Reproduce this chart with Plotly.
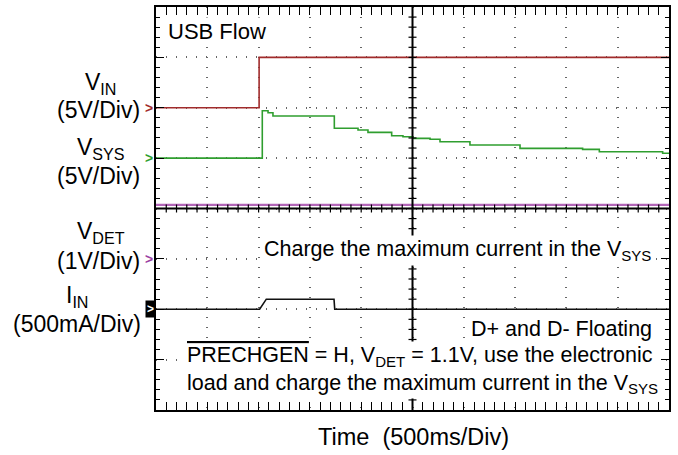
import plotly.graph_objects as go

# ---------------- data (time in ms, 500 ms/div) ----------------
t_vin = [0, 1005, 5000]
v_vin = [0.0, 5.0, 5.0]                      # V, 5 V/div

t_vsys = [0, 1036, 1092, 1140, 1738, 1969, 2066, 2297, 2407, 2505, 2671,
          2768, 3060, 3548, 4158, 4321, 4938, 5000]
v_vsys = [0.0, 4.70, 4.50, 4.18, 2.96, 2.79, 2.56, 2.22, 2.12, 1.96, 1.87,
          1.63, 1.30, 0.97, 0.87, 0.63, 0.48, 0.48]   # V, 5 V/div

t_vdet = [0, 5000]
v_vdet = [1.07, 1.07]                        # V, 1 V/div

t_iin = [0, 1010, 1075, 1735, 1742, 5000]
i_iin = [0, 0, 100, 100, 0, 0]               # mA, 500 mA/div

# ---------------- geometry helpers (layout only) ----------------
L, R, T, B = 156, 669, 7, 410
W, H = 678, 455
def px(x):
    return (x - L) / (R - L)
def py(y):
    return (B - y) / (B - T)

FONT = "Liberation Sans"

fig = go.Figure()

fig.add_trace(go.Scatter(x=t_vin, y=v_vin, mode="lines", line_shape="hv",
                         line=dict(color="#a12b2b", width=1.6), yaxis="y2"))
fig.add_trace(go.Scatter(x=t_vsys, y=v_vsys, mode="lines", line_shape="hv",
                         line=dict(color="#2f9e2f", width=1.6), yaxis="y3"))
fig.add_trace(go.Scatter(x=t_vdet, y=v_vdet, mode="lines",
                         line=dict(color="#b366b8", width=2.2), yaxis="y4"))
fig.add_trace(go.Scatter(x=t_iin, y=i_iin, mode="lines",
                         line=dict(color="#111111", width=1.6), yaxis="y5"))

border = dict(showline=True, linecolor="black", linewidth=1.5, mirror="allticks",
              ticks="inside", ticklen=8, tickwidth=1.2, tickcolor="black",
              showticklabels=False, zeroline=False, showgrid=True,
              gridcolor="#666666", gridwidth=1.5, automargin=False)

fig.update_layout(
    width=W, height=H,
    margin=dict(l=L, r=W - R, t=T, b=H - B, pad=0),
    paper_bgcolor="white", plot_bgcolor="white",
    showlegend=False,
    font=dict(family=FONT, color="black"),
    xaxis=dict(range=[0, 5000], tick0=0, dtick=500, griddash="1px,9px",
               minor=dict(dtick=100, ticks="inside", ticklen=4, tickwidth=1.2,
                          tickcolor="black", showgrid=False), **border),
    yaxis=dict(range=[-4, 4], tick0=0, dtick=1, griddash="1px,9px",
               minor=dict(dtick=0.2, ticks="inside", ticklen=4, tickwidth=1.2,
                          tickcolor="black", showgrid=False), **border),
    yaxis2=dict(range=[-30, 10], overlaying="y", visible=False),
    yaxis3=dict(range=[-25, 15], overlaying="y", visible=False),
    yaxis4=dict(range=[-3, 5], overlaying="y", visible=False),
    yaxis5=dict(range=[-1000, 3000], overlaying="y", visible=False),
)

# centre cross with its graticule ticks (layout decoration on the grid axes)
XC, YC = 2500, 0
fig.add_shape(type="line", xref="x", yref="y", x0=XC, x1=XC, y0=-4, y1=4,
              line=dict(color="black", width=2), layer="above")
fig.add_shape(type="line", xref="x", yref="y", x0=0, x1=5000, y0=YC, y1=YC,
              line=dict(color="black", width=2), layer="above")
for k in range(1, 50):
    fig.add_shape(type="line", xref="x", yref="y", x0=k * 100, x1=k * 100,
                  ysizemode="pixel", yanchor=YC, y0=-4, y1=4,
                  line=dict(color="black", width=1.2), layer="above")
for k in range(1, 40):
    fig.add_shape(type="line", xref="x", yref="y", y0=-4 + k * 0.2, y1=-4 + k * 0.2,
                  xsizemode="pixel", xanchor=XC, x0=-4, x1=4,
                  line=dict(color="black", width=1.2), layer="above")

def ann(text, x, y, xanchor="center", size=23, color="black", bg=None, align="center",
        yref="paper", yval=None, **kw):
    d = dict(text=text, x=px(x), xref="paper", xanchor=xanchor, yanchor="middle",
             y=py(y) if yval is None else yval, yref=yref, showarrow=False,
             font=dict(family=FONT, size=size, color=color), align=align)
    if bg:
        d.update(bgcolor=bg)
    d.update(kw)
    fig.add_annotation(**d)

# left channel labels
ann("V<sub>IN</sub>", 100, 83)
ann("(5V/Div)", 142, 110, xanchor="right")
ann("V<sub>SYS</sub>", 101, 148)
ann("(5V/Div)", 142, 176, xanchor="right")
ann("V<sub>DET</sub>", 101, 233)
ann("(1V/Div)", 142, 261, xanchor="right")
ann("I<sub>IN</sub>", 77, 296)
ann("(500mA/Div)", 143, 324, xanchor="right")

# ground markers, placed at 0 of each channel scale
ann("<b>></b>", 149, 0, size=14, color="#a12b2b", yref="y2", yval=0)
ann("<b>></b>", 149, 0, size=14, color="#2f9e2f", yref="y3", yval=0)
ann("<b>></b>", 149, 0, size=14, color="#9b3fa3", yref="y4", yval=0)
ann("<b>></b>", 150.5, 0, size=12, color="white", bg="black", yref="y5", yval=0,
    borderpad=1)

# texts inside the screen
ann("USB Flow", 166, 31, xanchor="left", size=22, bg="white")
ann("Charge the maximum current in the V<sub>SYS</sub>", 653, 250, xanchor="right",
    size=21.5, bg="white")
ann("D+ and D- Floating", 654, 329, xanchor="right", size=21.5, bg="white")
ann('<span style="text-decoration:overline">PRECHGEN</span> = H, V<sub>DET</sub> = 1.1V, use the electronic<br>'
    'load and charge the maximum current in the V<sub>SYS</sub>',
    185, 370, xanchor="left", size=21.5, bg="white", align="left")

# time base label
ann("Time&nbsp; (500ms/Div)", 413, 437, size=23.5)

fig.write_html("out.html", config={"displayModeBar": False},
               post_script="document.body.style.margin='0';document.body.style.padding='0';")
